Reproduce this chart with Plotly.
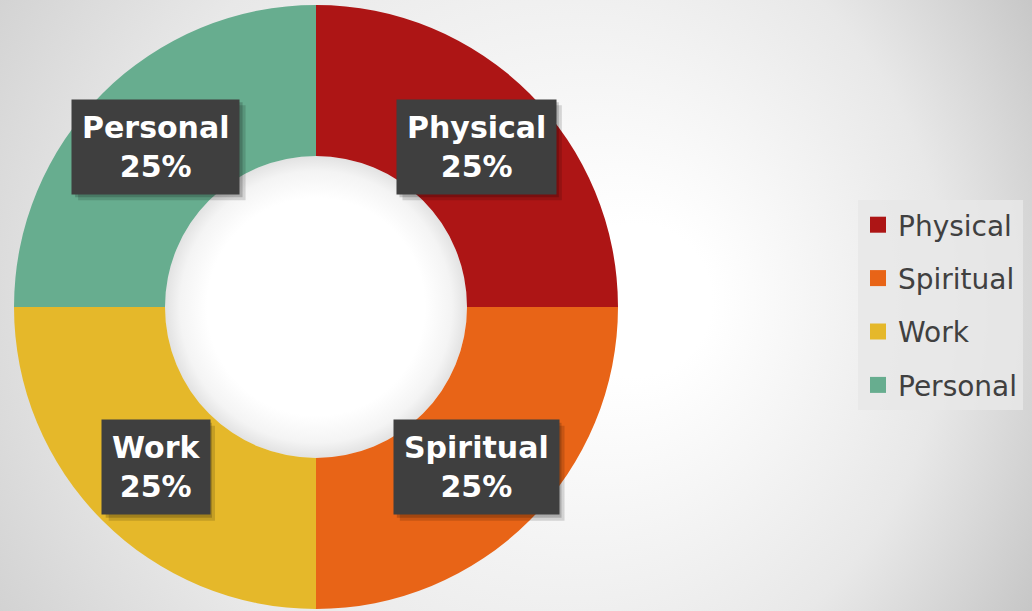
import base64
import math
import plotly.graph_objects as go

# ---- data ----
categories = ["Physical", "Spiritual", "Work", "Personal"]
values = [25, 25, 25, 25]
colors = ["#AD1515", "#E86417", "#E5B82A", "#67AD8F"]

W, H = 1032, 611
HOLE = 0.5
CX_PX, CY_PX, R_PX = 316, 307, 302  # pie center / radius in pixels (from top-left)
R_IN = R_PX * HOLE

# pie domain in paper coordinates
dom_x = [(CX_PX - R_PX) / W, (CX_PX + R_PX) / W]
dom_y = [(H - CY_PX - R_PX) / H, (H - CY_PX + R_PX) / H]

# background: radial gradient + soft shading inside the hole (inline svg)
svg = f'''<svg xmlns="http://www.w3.org/2000/svg" width="{W}" height="{H}" viewBox="0 0 {W} {H}" preserveAspectRatio="none">
<defs><radialGradient id="g" gradientUnits="userSpaceOnUse" cx="420" cy="300" r="760" fx="660" fy="300">
<stop offset="0" stop-color="#ffffff"/><stop offset="0.1" stop-color="#ffffff"/>
<stop offset="0.55" stop-color="#e8e8e8"/><stop offset="1" stop-color="#b8b8b8"/>
</radialGradient>
<radialGradient id="h" gradientUnits="userSpaceOnUse" cx="{CX_PX}" cy="{CY_PX}" r="{R_IN}">
<stop offset="0" stop-color="#ffffff"/><stop offset="0.72" stop-color="#ffffff"/>
<stop offset="0.9" stop-color="#f4f4f4"/><stop offset="1" stop-color="#e2e2e2"/>
</radialGradient></defs>
<rect width="{W}" height="{H}" fill="url(#g)"/>
<circle cx="{CX_PX}" cy="{CY_PX}" r="{R_IN}" fill="url(#h)"/></svg>'''
bg_src = "data:image/svg+xml;base64," + base64.b64encode(svg.encode()).decode()

fig = go.Figure()
fig.add_trace(go.Pie(
    labels=categories, values=values, hole=HOLE, sort=False,
    direction="clockwise", rotation=0,
    marker=dict(colors=colors, line=dict(width=0)),
    textinfo="none", hoverinfo="label+percent",
    domain=dict(x=dom_x, y=dom_y), showlegend=False,
))

# legend entries (one per category, so the legend rows can be spaced)
for lab, col in zip(categories, colors):
    fig.add_trace(go.Scatter(
        x=[None], y=[None], mode="markers", name=lab, legendgroup=lab,
        marker=dict(symbol="square", size=16, color=col), showlegend=True,
        hoverinfo="skip",
    ))

# approximate advance widths (em) of DejaVu Sans Bold, for the label shadows
ADV = {"P": .733, "S": .720, "W": 1.031, "a": .675, "c": .593, "e": .678,
       "h": .712, "i": .343, "k": .665, "l": .343, "n": .712, "o": .687,
       "p": .716, "r": .493, "s": .595, "t": .478, "u": .712, "y": .652,
       "2": .696, "5": .696, "%": 1.002}

LFONT = "DejaVu Sans"
FS = 30
PAD = 10

total = sum(values)
cum = 0
mid_r = R_PX * (1 + HOLE) / 2
annotations, shapes = [], []
for lab, v in zip(categories, values):
    ang = math.radians(90 - 360 * (cum + v / 2) / total)
    cum += v
    px = CX_PX + mid_r * math.cos(ang)
    py = CY_PX - mid_r * math.sin(ang)
    pct = f"{round(100 * v / total)}%"
    # shadow rectangles behind the label box
    tw = max(sum(ADV.get(c, .65) for c in s) for s in (lab, pct)) * FS
    bw, bh = tw + 2 * PAD, 2.5 * FS + 2 * PAD
    for off, alpha in ((3, 0.18), (6, 0.14)):
        shapes.append(dict(type="rect", xref="paper", yref="paper", layer="above",
                           x0=(px - bw / 2 + off) / W, x1=(px + bw / 2 + off) / W,
                           y0=1 - (py + bh / 2 + off) / H, y1=1 - (py - bh / 2 + off) / H,
                           fillcolor=f"rgba(0,0,0,{alpha})", line=dict(width=0)))
    annotations.append(dict(x=px / W, y=1 - py / H, xref="paper", yref="paper",
                            showarrow=False, xanchor="center", yanchor="middle",
                            text=f"<b>{lab}<br>{pct}</b>", align="center",
                            borderpad=PAD, bgcolor="#3f3f3f",
                            font=dict(family=LFONT, size=FS, color="#ffffff")))

fig.update_layout(
    width=W, height=H,
    margin=dict(l=0, r=0, t=0, b=0),
    paper_bgcolor="#e6e6e6",
    plot_bgcolor="rgba(0,0,0,0)",
    xaxis=dict(visible=False), yaxis=dict(visible=False),
    images=[dict(source=bg_src, xref="paper", yref="paper", x=0, y=1,
                 sizex=1, sizey=1, sizing="stretch", layer="below",
                 xanchor="left", yanchor="top")],
    annotations=annotations,
    shapes=shapes,
    showlegend=True,
    legend=dict(x=858 / W, y=1 - 200 / H, xanchor="left", yanchor="top",
                traceorder="grouped", tracegroupgap=14,
                bgcolor="rgba(232,232,232,0.85)",
                font=dict(family="DejaVu Sans", size=28, color="#404040")),
)

fig.write_html("out.html")
